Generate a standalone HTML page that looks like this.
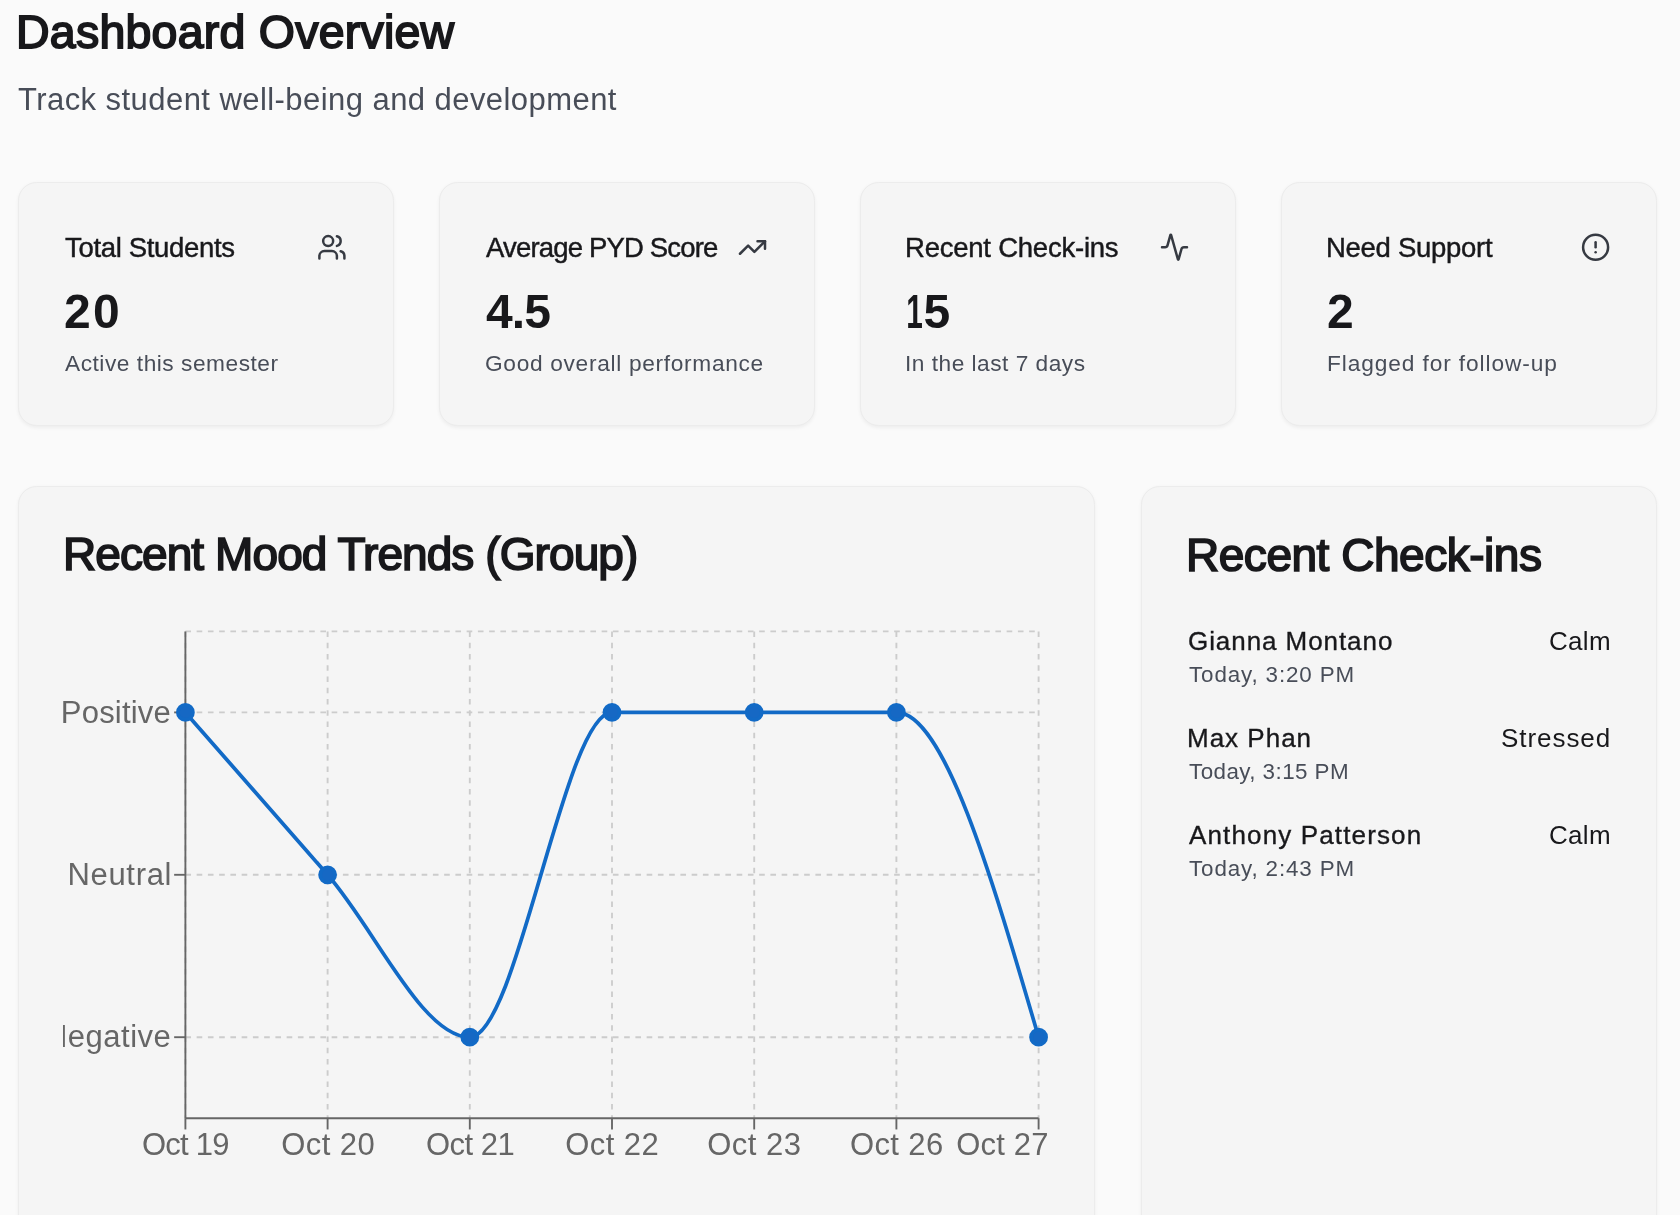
<!DOCTYPE html>
<html lang="en"><head><meta charset="utf-8"><title>Dashboard Overview</title>
<style>
html,body{margin:0;padding:0}
body{width:1680px;height:1215px;overflow:hidden;background:#fafafa;position:relative;font-family:"Liberation Sans",Arial,sans-serif}
h1,h2,h3,p{margin:0;font-weight:inherit}
.t{position:absolute;white-space:nowrap;line-height:1;will-change:transform}
.card{position:absolute;box-sizing:border-box;background:#f5f5f5;border:1px solid #ececec;border-radius:18.75px;box-shadow:0 1.875px 3.75px rgba(0,0,0,0.05)}
.ic{position:absolute;fill:none;stroke:#363a42;stroke-width:2;stroke-linecap:round;stroke-linejoin:round}
.chart{position:absolute;overflow:hidden;font-family:"Liberation Sans",Arial,sans-serif;will-change:transform}
</style></head><body>
<header>
<h1 class="t" style="left:16.19px;top:8.83px;font-size:46.5px;letter-spacing:0.235px;color:#18181b;-webkit-text-stroke:1.8px #18181b;">Dashboard Overview</h1>
<p class="t" style="left:17.90px;top:83.75px;font-size:31px;letter-spacing:0.44px;color:#484d58;">Track student well-being and development</p>
</header>
<section class="stats">
<div class="card" style="left:17.5px;top:182px;width:376px;height:243.75px">
<h3 class="t" style="left:46.31px;top:51.12px;font-size:27.5px;letter-spacing:-0.33px;color:#18181b;-webkit-text-stroke:0.45px #18181b;">Total Students</h3>
<div class="t" style="left:45.04px;top:104.56px;font-size:48px;font-weight:700;letter-spacing:2.4px;color:#18181b;">20</div>
<p class="t" style="left:46.66px;top:169.18px;font-size:22.7px;letter-spacing:0.53px;color:#484d58;">Active this semester</p>
<svg class="ic" style="left:297.500px;top:49.000px" width="32" height="32" viewBox="0 0 32 32"><g transform="translate(0.90 0.30) scale(1.25)"><path d="M16 21v-2a4 4 0 0 0-4-4H6a4 4 0 0 0-4 4v2"/><circle cx="9" cy="7" r="4"/><path d="M22 21v-2a4 4 0 0 0-3-3.87"/><path d="M16 3.13a4 4 0 0 1 0 7.75"/></g></svg>
</div>
<div class="card" style="left:438.6px;top:182px;width:376px;height:243.75px">
<h3 class="t" style="left:46.87px;top:51.12px;font-size:27.5px;letter-spacing:-0.825px;color:#18181b;-webkit-text-stroke:0.45px #18181b;">Average PYD Score</h3>
<div class="t" style="left:45.97px;top:104.56px;font-size:48px;font-weight:700;letter-spacing:-0.9px;color:#18181b;">4.5</div>
<p class="t" style="left:45.56px;top:169.18px;font-size:22.7px;letter-spacing:0.69px;color:#484d58;">Good overall performance</p>
<svg class="ic" style="left:297.400px;top:49.000px" width="32" height="32" viewBox="0 0 32 32"><g transform="translate(0.50 0.50) scale(1.25)"><polyline points="22 7 13.5 15.5 8.5 10.5 2 17"/><polyline points="16 7 22 7 22 13"/></g></svg>
</div>
<div class="card" style="left:859.7px;top:182px;width:376px;height:243.75px">
<h3 class="t" style="left:44.67px;top:51.12px;font-size:27.5px;letter-spacing:-0.23px;color:#18181b;-webkit-text-stroke:0.45px #18181b;">Recent Check-ins</h3>
<div class="t" style="left:35.10px;top:104.56px;font-size:48px;font-weight:700;color:#18181b"><span style="display:inline-block;transform:scaleX(0.62);transform-origin:100% 50%;margin-right:0.9px">1</span>5</div>
<p class="t" style="left:44.61px;top:169.18px;font-size:22.7px;letter-spacing:0.5px;color:#484d58;">In the last 7 days</p>
<svg class="ic" style="left:298.300px;top:49.000px" width="32" height="32" viewBox="0 0 32 32"><g transform="translate(0.50 0.20) scale(1.25)"><path d="M22 12h-2.48a2 2 0 0 0-1.93 1.46l-2.35 8.36a.25.25 0 0 1-.48 0L9.24 2.18a.25.25 0 0 0-.48 0l-2.35 8.36A2 2 0 0 1 4.49 12H2"/></g></svg>
</div>
<div class="card" style="left:1280.8px;top:182px;width:376px;height:243.75px">
<h3 class="t" style="left:44.67px;top:51.12px;font-size:27.5px;letter-spacing:-0.28px;color:#18181b;-webkit-text-stroke:0.45px #18181b;">Need Support</h3>
<div class="t" style="left:45.04px;top:104.56px;font-size:48px;font-weight:700;color:#18181b;">2</div>
<p class="t" style="left:44.84px;top:169.18px;font-size:22.7px;letter-spacing:0.9px;color:#484d58;">Flagged for follow-up</p>
<svg class="ic" style="left:298.200px;top:49.000px" width="32" height="32" viewBox="0 0 32 32"><g transform="translate(0.60 0.20) scale(1.25)"><circle cx="12" cy="12" r="10"/><line x1="12" x2="12" y1="8" y2="12"/><line x1="12" x2="12.01" y1="16" y2="16"/></g></svg>
</div>
</section>
<section class="main">
<div class="card" style="left:18px;top:486px;width:1077px;height:760px">
<h2 class="t" style="left:44.18px;top:44.25px;font-size:46px;letter-spacing:-0.92px;color:#18181b;-webkit-text-stroke:1.7px #18181b;">Recent Mood Trends (Group)</h2>
<svg class="chart" style="left:44.000px;top:113.000px" width="986" height="600" viewBox="63 600 986 600"><g stroke="#ccc" stroke-width="1.875" stroke-dasharray="5.625 5.625" fill="none"><line x1="185.4" y1="631.4" x2="1038.6" y2="631.4"/><line x1="185.4" y1="712.4" x2="1038.6" y2="712.4"/><line x1="185.4" y1="874.8" x2="1038.6" y2="874.8"/><line x1="185.4" y1="1037.2" x2="1038.6" y2="1037.2"/><line x1="185.40" y1="631.4" x2="185.40" y2="1118.2"/><line x1="327.60" y1="631.4" x2="327.60" y2="1118.2"/><line x1="469.80" y1="631.4" x2="469.80" y2="1118.2"/><line x1="612.00" y1="631.4" x2="612.00" y2="1118.2"/><line x1="754.20" y1="631.4" x2="754.20" y2="1118.2"/><line x1="896.40" y1="631.4" x2="896.40" y2="1118.2"/><line x1="1038.60" y1="631.4" x2="1038.60" y2="1118.2"/></g><g stroke="#666" stroke-width="1.875" fill="none"><line x1="185.4" y1="631.4" x2="185.4" y2="1118.2"/><line x1="185.4" y1="1118.2" x2="1038.6" y2="1118.2"/><line x1="174.15" y1="712.4" x2="185.4" y2="712.4"/><line x1="174.15" y1="874.8" x2="185.4" y2="874.8"/><line x1="174.15" y1="1037.2" x2="185.4" y2="1037.2"/><line x1="185.40" y1="1118.2" x2="185.40" y2="1129.45"/><line x1="327.60" y1="1118.2" x2="327.60" y2="1129.45"/><line x1="469.80" y1="1118.2" x2="469.80" y2="1129.45"/><line x1="612.00" y1="1118.2" x2="612.00" y2="1129.45"/><line x1="754.20" y1="1118.2" x2="754.20" y2="1129.45"/><line x1="896.40" y1="1118.2" x2="896.40" y2="1129.45"/><line x1="1038.60" y1="1118.2" x2="1038.60" y2="1129.45"/></g><g fill="#666" font-size="31"><text x="170.98" y="723.1" text-anchor="end" letter-spacing="0.2">Positive</text><text x="172.15" y="885.3" text-anchor="end" letter-spacing="0.68">Neutral</text><text x="171.28" y="1047.4" text-anchor="end" letter-spacing="0.5">Negative</text><text x="185.31" y="1154.6" text-anchor="middle" letter-spacing="-0.78">Oct 19</text><text x="328.26" y="1154.6" text-anchor="middle" letter-spacing="0.42">Oct 20</text><text x="470.16" y="1154.6" text-anchor="middle" letter-spacing="-0.48">Oct 21</text><text x="612.16" y="1154.6" text-anchor="middle" letter-spacing="0.42">Oct 22</text><text x="754.34" y="1154.6" text-anchor="middle" letter-spacing="0.48">Oct 23</text><text x="896.80" y="1154.6" text-anchor="middle" letter-spacing="0.4">Oct 26</text><text x="1048.66" y="1154.6" text-anchor="end" letter-spacing="0.2">Oct 27</text></g><path d="M185.40,712.40C232.80,766.53,280.20,820.67,327.60,874.80C375.00,928.93,422.40,1037.20,469.80,1037.20C517.20,1037.20,564.60,712.40,612.00,712.40C659.40,712.40,706.80,712.40,754.20,712.40C801.60,712.40,849.00,712.40,896.40,712.40C943.80,712.40,991.20,874.80,1038.60,1037.20" fill="none" stroke="#126ac6" stroke-width="3.75"/><circle cx="185.40" cy="712.4" r="7.5" fill="#1668c4" stroke="#126ac6" stroke-width="3.75"/><circle cx="327.60" cy="874.8" r="7.5" fill="#1668c4" stroke="#126ac6" stroke-width="3.75"/><circle cx="469.80" cy="1037.2" r="7.5" fill="#1668c4" stroke="#126ac6" stroke-width="3.75"/><circle cx="612.00" cy="712.4" r="7.5" fill="#1668c4" stroke="#126ac6" stroke-width="3.75"/><circle cx="754.20" cy="712.4" r="7.5" fill="#1668c4" stroke="#126ac6" stroke-width="3.75"/><circle cx="896.40" cy="712.4" r="7.5" fill="#1668c4" stroke="#126ac6" stroke-width="3.75"/><circle cx="1038.60" cy="1037.2" r="7.5" fill="#1668c4" stroke="#126ac6" stroke-width="3.75"/></svg>
</div>
<div class="card" style="left:1141px;top:486px;width:515.5px;height:760px">
<h2 class="t" style="left:44.08px;top:44.65px;font-size:46px;letter-spacing:-0.47px;color:#18181b;-webkit-text-stroke:1.7px #18181b;">Recent Check-ins</h2>
<div class="row">
<div class="t" style="left:45.67px;top:140.99px;font-size:26px;letter-spacing:0.93px;color:#18181b;-webkit-text-stroke:0.35px #18181b;">Gianna Montano</div>
<div class="t" style="right:44.69px;top:140.99px;font-size:26px;letter-spacing:0.3px;color:#18181b;">Calm</div>
<div class="t" style="left:46.50px;top:176.63px;font-size:22.4px;letter-spacing:0.87px;color:#484d58;">Today, 3:20 PM</div>
</div>
<div class="row">
<div class="t" style="left:44.84px;top:238.14px;font-size:26px;letter-spacing:1.0px;color:#18181b;-webkit-text-stroke:0.35px #18181b;">Max Phan</div>
<div class="t" style="right:44.08px;top:238.14px;font-size:26px;letter-spacing:0.94px;color:#18181b;">Stressed</div>
<div class="t" style="left:46.50px;top:273.78px;font-size:22.4px;letter-spacing:0.44px;color:#484d58;">Today, 3:15 PM</div>
</div>
<div class="row">
<div class="t" style="left:46.92px;top:335.29px;font-size:26px;letter-spacing:1.14px;color:#18181b;-webkit-text-stroke:0.35px #18181b;">Anthony Patterson</div>
<div class="t" style="right:44.69px;top:335.29px;font-size:26px;letter-spacing:0.3px;color:#18181b;">Calm</div>
<div class="t" style="left:46.50px;top:370.93px;font-size:22.4px;letter-spacing:0.87px;color:#484d58;">Today, 2:43 PM</div>
</div>
</div>
</section>
</body></html>
